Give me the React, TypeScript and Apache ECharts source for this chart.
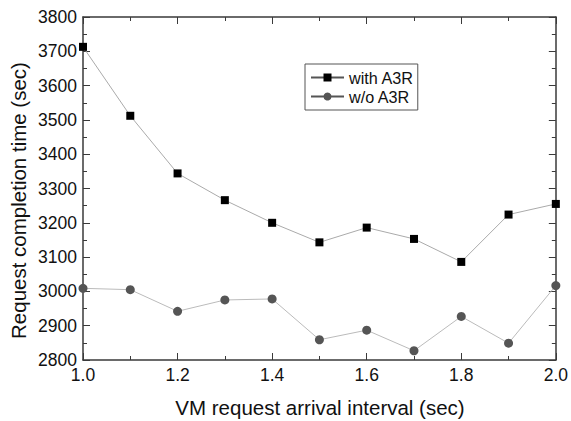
import React, { useEffect, useRef } from "react";
import * as echarts from "echarts";

const intervals = [1.0, 1.1, 1.2, 1.3, 1.4, 1.5, 1.6, 1.7, 1.8, 1.9, 2.0];
const withA3R = [3713, 3512, 3344, 3266, 3200, 3143, 3186, 3153, 3086, 3224, 3255];
const withoutA3R = [3009, 3005, 2942, 2975, 2978, 2859, 2887, 2827, 2927, 2849, 3017];
const seriesNames = ["with A3R", "w/o A3R"];
const xTitle = "VM request arrival interval (sec)";
const yTitle = "Request completion time (sec)";

const FONT = "'Liberation Sans', Arial, sans-serif";
const AXIS_COLOR = "#3a3a3a";
const TEXT_COLOR = "#111";

export default function App() {
  const ref = useRef<HTMLDivElement>(null);
  useEffect(() => {
    if (!ref.current) return;
    const chart = echarts.init(ref.current, null, { renderer: "svg" });
    const axisCommon = {
      axisLine: { show: true, onZero: false, lineStyle: { color: AXIS_COLOR, width: 1.5 } },
      axisTick: { show: true, inside: true, length: 7, lineStyle: { color: AXIS_COLOR, width: 1 } },
      minorTick: { show: true, splitNumber: 2, length: 4, lineStyle: { color: AXIS_COLOR, width: 1 } },
      splitLine: { show: false },
      minorSplitLine: { show: false },
    };
    chart.setOption({
      animation: false,
      textStyle: { fontFamily: FONT },
      grid: { left: 83, right: 14, top: 17, bottom: 61, containLabel: false },
      legend: {
        left: 305,
        top: 64,
        orient: "vertical",
        data: seriesNames,
        itemWidth: 33,
        itemHeight: 10,
        itemGap: 2,
        padding: [5, 4, 5, 5],
        borderColor: "#555",
        borderWidth: 1,
        lineStyle: { color: "#555" },
        textStyle: { fontSize: 16.2, color: TEXT_COLOR, fontFamily: FONT, lineHeight: 17 },
      },
      graphic: [
        {
          type: "text",
          x: 320,
          y: 407,
          style: {
            text: xTitle,
            fontSize: 20.5,
            fontFamily: FONT,
            fill: TEXT_COLOR,
            align: "center",
            verticalAlign: "middle",
          },
        },
        {
          type: "text",
          x: 18,
          y: 200.5,
          rotation: Math.PI / 2,
          style: {
            text: yTitle,
            fontSize: 20.5,
            fontFamily: FONT,
            fill: TEXT_COLOR,
            align: "center",
            verticalAlign: "middle",
          },
        },
      ],
      xAxis: [
        {
          type: "value",
          min: 1.0,
          max: 2.0,
          interval: 0.2,
          position: "bottom",
          axisLabel: {
            fontSize: 17.5,
            color: TEXT_COLOR,
            margin: 6,
            fontFamily: FONT,
            formatter: (v: number) => v.toFixed(1),
          },
          ...axisCommon,
        },
        {
          type: "value",
          min: 1.0,
          max: 2.0,
          interval: 0.2,
          position: "top",
          axisLabel: { show: false },
          ...axisCommon,
        },
      ],
      yAxis: [
        {
          type: "value",
          min: 2800,
          max: 3800,
          interval: 100,
          position: "left",
          axisLabel: {
            fontSize: 17.5,
            color: TEXT_COLOR,
            margin: 6,
            fontFamily: FONT,
            formatter: (v: number) => String(v),
          },
          ...axisCommon,
        },
        {
          type: "value",
          min: 2800,
          max: 3800,
          interval: 100,
          position: "right",
          axisLabel: { show: false },
          ...axisCommon,
        },
      ],
      series: [
        {
          name: seriesNames[0],
          type: "line",
          data: intervals.map((x, i) => [x, withA3R[i]]),
          symbol: "rect",
          symbolSize: 8,
          itemStyle: { color: "#000" },
          lineStyle: { color: "#aaa", width: 1 },
        },
        {
          name: seriesNames[1],
          type: "line",
          data: intervals.map((x, i) => [x, withoutA3R[i]]),
          symbol: "circle",
          symbolSize: 9,
          itemStyle: { color: "#555" },
          lineStyle: { color: "#bbb", width: 1 },
        },
      ],
    });
    return () => chart.dispose();
  }, []);
  return (
    <div
      ref={ref}
      style={{ position: "absolute", left: 0, top: 0, width: 571, height: 421, background: "#fff" }}
    />
  );
}
